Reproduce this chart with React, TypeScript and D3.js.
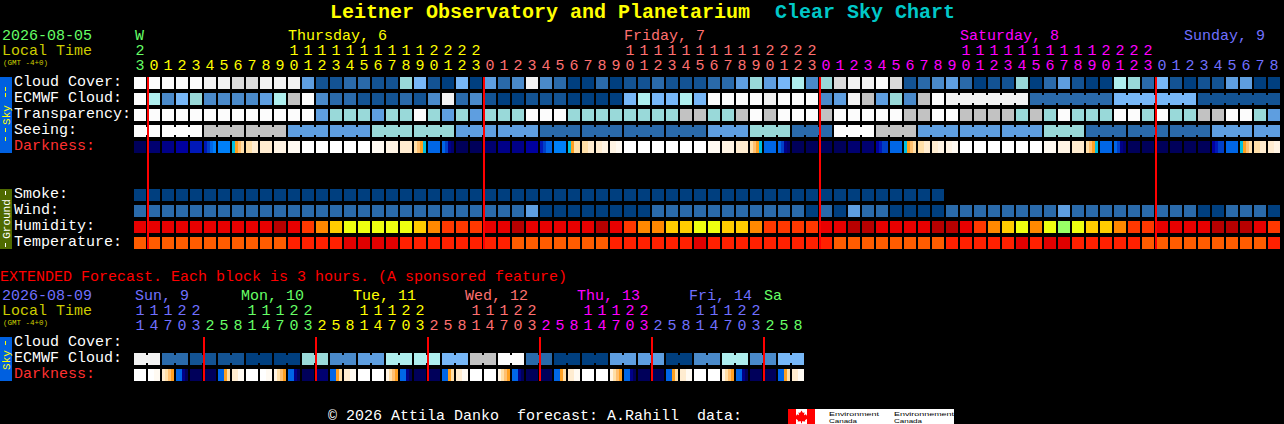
import React from "react";
import * as d3 from "d3";

// ---------- data ----------
const hourly = 82;
const extended = 48;
const cloudCover = [11,11,11,11,11,10,10,9,9,10,10,10,4,1,1,2,2,1,1,6,5,1,0,5,0,4,2,3,10,3,2,0,0,2,0,1,1,2,1,1,1,2,2,4,6,4,5,7,3,6,9,10,10,11,9,1,2,3,4,2,0,1,1,6,0,2,4,1,0,0,7,6,2,5,1,0,1,1,4,4,0,0];
const ecmwfCloud = [11,7,3,5,6,3,3,3,3,4,7,8,11,3,2,2,1,1,1,2,1,3,10,2,3,1,0,0,1,1,1,0,0,0,0,5,7,5,5,7,5,11,11,11,11,10,11,11,11,3,4,10,8,4,6,3,8,11,10,10,10,10,10,10,2,2,2,2,2,2,5,5,5,5,5,5,1,1,1,1,1,1];
const transparency = [11,11,11,11,11,11,11,11,11,11,11,11,11,4,6,6,6,4,6,6,11,6,4,6,4,6,6,6,11,11,11,6,6,6,6,6,6,6,6,8,8,6,6,8,11,8,11,11,11,8,11,11,11,11,11,8,8,11,11,8,8,8,8,6,8,6,11,6,6,6,11,11,6,11,6,6,8,8,11,11,6,4];
const seeingBlockStart = [0,2,5,8,11,14,17,20,23,26,29,32,35,38,41,44,47,50,53,56,59,62,65,68,71,74,77,80];
const seeingBlockValue = [11,11,8,8,4,4,6,6,4,4,2,2,2,2,4,6,2,11,8,4,4,4,6,2,2,2,4,4];
const ecmwfBlockStart = [58,64,70,76];
const ecmwfBlockSize = 6;
const darkness = [[0],[1],[2],[3],[4],[4,5,6,7],[7],[8,9,10,11],[11,12],[12],[13],[14],[15],[15],[15],[15],[15],[14],[13],[12],[11,10,9,8],[6],[6,5,2,1],[0],[0],[1],[2],[2],[3],[4,5,6,6],[7],[8,9,11,11],[11,12],[12,13],[13,14],[15],[15],[15],[15],[15],[15],[14],[13],[12],[11,10,9,8],[6],[6,5,2,1],[0],[0],[0],[0],[1],[1],[3,4,5,5],[6],[8,9,10,11],[11,12],[12,13],[13,14],[15],[15],[15],[15],[15],[15],[14],[13],[12],[11,10,9,8],[6],[6,5,2,1],[0],[0],[0],[0],[0],[0],[3,4,5,5],[6],[8,9,10,11],[11,12],[12,13]];
const smoke = Array.from({ length: 58 }, () => 0);
const wind = [2,2,2,2,2,2,2,2,2,2,2,2,2,2,2,2,2,2,2,2,2,2,2,2,2,2,2,2,4,0,0,0,0,0,0,0,0,2,2,2,2,2,2,2,2,2,2,2,0,2,0,4,2,2,0,0,0,0,2,2,2,2,2,2,2,2,4,2,2,2,2,2,2,2,2,2,0,0,2,2,2,0];
const humidity = [1,1,1,1,1,1,1,1,1,1,0,1,2,3,4,5,5,5,5,5,4,3,2,2,2,1,1,0,1,1,1,1,1,0,1,2,3,3,4,4,5,5,4,4,3,2,2,2,2,1,1,0,0,1,1,1,1,0,0,1,2,3,4,5,3,5,6,5,4,4,3,2,2,1,1,1,1,0,0,0,1,2];
const temperature = [2,2,2,2,2,2,2,2,2,2,2,1,1,1,1,0,0,0,0,1,1,1,1,1,1,1,1,2,2,2,2,2,2,2,1,1,1,1,1,1,0,1,1,1,1,1,1,1,1,1,2,2,2,2,2,2,2,2,1,1,1,1,1,0,1,0,0,1,1,1,1,1,2,2,2,2,2,2,2,2,2,1];
const extCloud = [10,10,2,2,1,1,1,1,0,0,0,0,6,6,3,3,4,4,7,7,7,7,5,5,8,8,11,11,2,2,0,0,0,0,4,4,4,4,0,0,3,3,7,7,3,3,5,5];
const extDarkness = [[15],[15,14],[12,11,10,9],[6,6,2,0],[0],[0],[6,6,9,11],[12,14],[15],[15,14],[13,11,10,9],[6,6,2,0],[0],[1],[6,6,9,11],[12,14],[15],[15,15],[13,11,10,9],[6,6,2,0],[0],[0],[6,6,9,11],[12,14],[15],[15,15],[13,11,10,9],[6,6,2,0],[0],[0],[6,6,9,11],[12,14],[15],[15,15],[13,11,10,9],[6,6,2,0],[0],[0],[6,6,9,11],[12,14],[15],[15,15],[13,11,10,9],[6,6,2,0],[0],[0],[6,6,9,11],[12,14]];

const hourValues = [23,...d3.range(0, 24),...d3.range(0, 24),...d3.range(0, 24),...d3.range(0, 9)];
const hourGroups = [1,24,24,24,9];
const hourDayNames = ["W","Thursday, 6","Friday, 7","Saturday, 8","Sunday, 9"];
const hourDayCols = [0,11,35,59,75];
const midnightCols = [1,25,49,73];
const extHours = [11,14,17,20,23,2,5,8,11,14,17,20,23,2,5,8,11,14,17,20,23,2,5,8,11,14,17,20,23,2,5,8,11,14,17,20,23,2,5,8,11,14,17,20,23,2,5,8];
const extGroups = [5,8,8,8,8,8,3];
const extDayNames = ["Sun, 9","Mon, 10","Tue, 11","Wed, 12","Thu, 13","Fri, 14","Sa"];
const extDayCols = [0.07,7.65,15.65,23.65,31.65,39.65,45];
const extMidnightCols = [5,13,21,29,37,45];
const extGroupColorIdx = [4,0,1,2,3,4,0];

const hourColors = ["#66ff66","#ffff00","#ff7070","#ff00ff","#7070ff"];
const extColors = ["#66ff66","#ffff00","#ff7070","#ff00ff","#7070ff"];
const cloudPalette = ["#003f7f","#135393","#2a6aaa","#4a8aca","#5e9ee0","#77b7f7","#99d9d9","#aeeeee","#c2c2c2","#dadada","#f2f2f2","#fcfcfc"];
const darkPalette = ["#00005a","#000070","#000088","#0000a0","#0018b8","#0040c8","#0066e6","#0080f8","#00c0e0","#ffa020","#ffc070","#ffdfa8","#ffecd0","#fff4e4","#fffaf2","#ffffff"];
const humidityPalette = ["#b80000","#e80000","#ff3800","#ff8800","#ffcc00","#eeff10","#99ff66"];
const tempPalette = ["#e00000","#ff2000","#ff5c00"];

const skyLabels = ["Cloud Cover:","ECMWF Cloud:","Transparency:","Seeing:","Darkness:"];
const groundLabels = ["Smoke:","Wind:","Humidity:","Temperature:"];
const extLabels = ["Cloud Cover:","ECMWF Cloud:","Darkness:"];

// ---------- scales ----------
const seeing = d3.range(hourly).map((i) => seeingBlockValue[d3.bisectRight(seeingBlockStart, i) - 1]);
const x = d3.scaleLinear().domain([0, 1]).range([134, 148]);
const cellW = 12;
const cloudColor = d3.scaleOrdinal<number, string>().domain(d3.range(cloudPalette.length)).range(cloudPalette);
const darkColor = d3.scaleOrdinal<number, string>().domain(d3.range(darkPalette.length)).range(darkPalette);
const humColor = d3.scaleOrdinal<number, string>().domain(d3.range(humidityPalette.length)).range(humidityPalette);
const tempColor = d3.scaleOrdinal<number, string>().domain(d3.range(tempPalette.length)).range(tempPalette);

const MONO = "'Liberation Mono', 'DejaVu Sans Mono', monospace";

function T(p: any) {
  const { x: tx, y, fill = "#fff", size = 15, bold, anchor, children, rotate } = p;
  return (
    <text
      x={tx}
      y={y}
      fill={fill}
      fontSize={size}
      fontFamily={MONO}
      fontWeight={bold ? 700 : 400}
      textAnchor={anchor}
      transform={rotate ? `rotate(-90 ${tx} ${y})` : undefined}
      style={{ whiteSpace: "pre" }}
    >
      {children}
    </text>
  );
}

function Row({ values, y, color, blocks }: { values: number[]; y: number; color: (v: number) => string; blocks?: (i: number) => boolean }) {
  return (
    <g shapeRendering="crispEdges">
      {values.map((v, i) => (
        <React.Fragment key={i}>
          <rect x={x(i)} y={y} width={cellW} height={cellW} fill={color(v)} />
          {blocks && blocks(i) && i + 1 < values.length ? (
            <rect x={x(i) + cellW} y={y + 2} width={x(1) - x(0) - cellW} height={8} fill={color(v)} />
          ) : null}
        </React.Fragment>
      ))}
    </g>
  );
}

function DarkRow({ values, y }: { values: number[][]; y: number }) {
  return (
    <g shapeRendering="crispEdges">
      {values.map((stops, i) => {
        const band = d3.scaleBand<number>().domain(d3.range(stops.length)).range([x(i), x(i) + cellW]);
        return stops.map((s, k) => (
          <rect key={`${i}-${k}`} x={band(k)} y={y} width={band.bandwidth()} height={cellW} fill={darkColor(s)} />
        ));
      })}
    </g>
  );
}

function expandColors(groups: number[], palette: string[]) {
  return groups.flatMap((n, g) => d3.range(n).map(() => palette[g]));
}

function Ticks({ hours, colors, tensY, unitY }: { hours: number[]; colors: string[]; tensY: number; unitY: number }) {
  return (
    <g>
      {hours.map((h, i) => (
        <React.Fragment key={i}>
          {h >= 10 ? <T x={x(i) + 6} y={tensY} anchor="middle" fill={colors[i]}>{Math.floor(h / 10)}</T> : null}
          <T x={x(i) + 6} y={unitY} anchor="middle" fill={colors[i]}>{h % 10}</T>
        </React.Fragment>
      ))}
    </g>
  );
}

function SideBar({ y, h, fill, label, labelFill, labelY, dashes }: any) {
  return (
    <g>
      <rect x={0} y={y} width={12} height={h} fill={fill} shapeRendering="crispEdges" />
      <T x={10} y={labelY} size={11} fill={labelFill} rotate anchor="middle">{label}</T>
      {dashes.map((d: number[], i: number) => (
        <rect key={i} x={5} y={d[0]} width={1} height={d[1]} fill={labelFill} shapeRendering="crispEdges" />
      ))}
    </g>
  );
}

export default function App() {
  const hourColorList = expandColors(hourGroups, hourColors);
  const extColorList = expandColors(extGroups, extGroupColorIdx.map((k) => extColors[k]));
  return (
    <svg width={1284} height={424} style={{ position: "absolute", left: 0, top: 0, display: "block", background: "#000" }}>
      <rect x={0} y={0} width={1284} height={424} fill="#000" />
      <T x={330} y={18} size={20} bold fill="#ffff00">Leitner Observatory and Planetarium</T>
      <T x={775} y={18} size={20} bold fill="#00c8c8">Clear Sky Chart</T>

      <T x={2} y={40} fill="#66ff66">2026-08-05</T>
      <T x={2} y={55} fill="#cccc00">Local Time</T>
      <T x={3} y={65} size={7.5} fill="#cccc00">(GMT -4+0)</T>
      {hourDayNames.map((d, i) => (
        <T key={d} x={x(hourDayCols[i]) + (i === 0 ? 1 : 0)} y={40} fill={hourColors[i]}>{d}</T>
      ))}
      <Ticks hours={hourValues} colors={hourColorList} tensY={55} unitY={70} />

      <SideBar y={77} h={76} fill="#0060e0" label="Sky" labelFill="#ffff00" labelY={115} dashes={[[87, 4], [93, 4], [128, 4], [137, 4]]} />
      {skyLabels.map((l, i) => (
        <T key={l} x={14} y={86 + i * 16} fill={i === 4 ? "#ff3030" : "#fff"}>{l}</T>
      ))}
      <Row values={cloudCover} y={77} color={cloudColor} />
      <Row values={ecmwfCloud} y={93} color={cloudColor} blocks={(i) => ecmwfBlockStart.some((s) => i >= s && i < s + ecmwfBlockSize - 1)} />
      <Row values={transparency} y={109} color={cloudColor} />
      <Row values={seeing} y={125} color={cloudColor} blocks={(i) => !seeingBlockStart.includes(i + 1)} />
      <DarkRow values={darkness} y={141} />

      <SideBar y={189} h={60} fill="#4f6a00" label="Ground" labelFill="#ffffff" labelY={219} dashes={[[191, 4], [243, 4]]} />
      {groundLabels.map((l, i) => (
        <T key={l} x={14} y={198 + i * 16}>{l}</T>
      ))}
      <Row values={smoke} y={189} color={cloudColor} />
      <Row values={wind} y={205} color={cloudColor} />
      <Row values={humidity} y={221} color={humColor} />
      <Row values={temperature} y={237} color={tempColor} />
      {midnightCols.map((c) => (
        <rect key={c} x={x(c) - 1} y={77} width={2} height={172} fill="#ff0000" shapeRendering="crispEdges" />
      ))}

      <T x={0} y={281} fill="#ff0000">EXTENDED Forecast. Each block is 3 hours. (A sponsored feature)</T>
      <T x={2} y={300} fill="#7070ff">2026-08-09</T>
      <T x={2} y={315} fill="#cccc00">Local Time</T>
      <T x={3} y={325} size={7.5} fill="#cccc00">(GMT -4+0)</T>
      {extDayNames.map((d, i) => (
        <T key={d} x={x(extDayCols[i])} y={300} fill={extColors[extGroupColorIdx[i]]}>{d}</T>
      ))}
      <Ticks hours={extHours} colors={extColorList} tensY={315} unitY={330} />

      <SideBar y={337} h={44} fill="#0060e0" label="Sky" labelFill="#ffff00" labelY={360} dashes={[[341, 4]]} />
      {extLabels.map((l, i) => (
        <T key={l} x={14} y={346 + i * 16} fill={i === 2 ? "#ff3030" : "#fff"}>{l}</T>
      ))}
      <Row values={extCloud.slice(0, extended)} y={353} color={cloudColor} blocks={(i) => i % 2 === 0} />
      <DarkRow values={extDarkness} y={369} />
      {extMidnightCols.map((c) => (
        <rect key={c} x={x(c) - 1} y={337} width={2} height={44} fill="#ff0000" shapeRendering="crispEdges" />
      ))}

      <T x={328} y={420}>© 2026 Attila Danko  forecast: A.Rahill  data:</T>

      <g shapeRendering="crispEdges">
        <rect x={788} y={409} width={166} height={15} fill="#fff" />
        <rect x={788} y={409} width={8} height={15} fill="#ff0000" />
        <rect x={807} y={409} width={8} height={15} fill="#ff0000" />
      </g>
      <path d="M801.5 411 l1.5 2.5 1.5 -0.8 -0.5 3 2 -1 0.5 1.3 1.5 -0.3 -0.6 2 1 0.8 -3.4 2.3 0.3 1.2 -3.3 -0.3 0 2 -1 0 0 -2 -3.3 0.3 0.3 -1.2 -3.4 -2.3 1 -0.8 -0.6 -2 1.5 0.3 0.5 -1.3 2 1 -0.5 -3 1.5 0.8 z" fill="#ff0000" transform="translate(0 -0.5)" />
      <g fontFamily="'Liberation Sans', sans-serif" fontSize={6.2} fill="#000">
        <text x={829} y={415.5} textLength={50} lengthAdjust="spacingAndGlyphs">Environment</text>
        <text x={829} y={423} textLength={28} lengthAdjust="spacingAndGlyphs">Canada</text>
        <text x={894} y={415.5} textLength={60} lengthAdjust="spacingAndGlyphs">Environnement</text>
        <text x={894} y={423} textLength={28} lengthAdjust="spacingAndGlyphs">Canada</text>
      </g>
    </svg>
  );
}
